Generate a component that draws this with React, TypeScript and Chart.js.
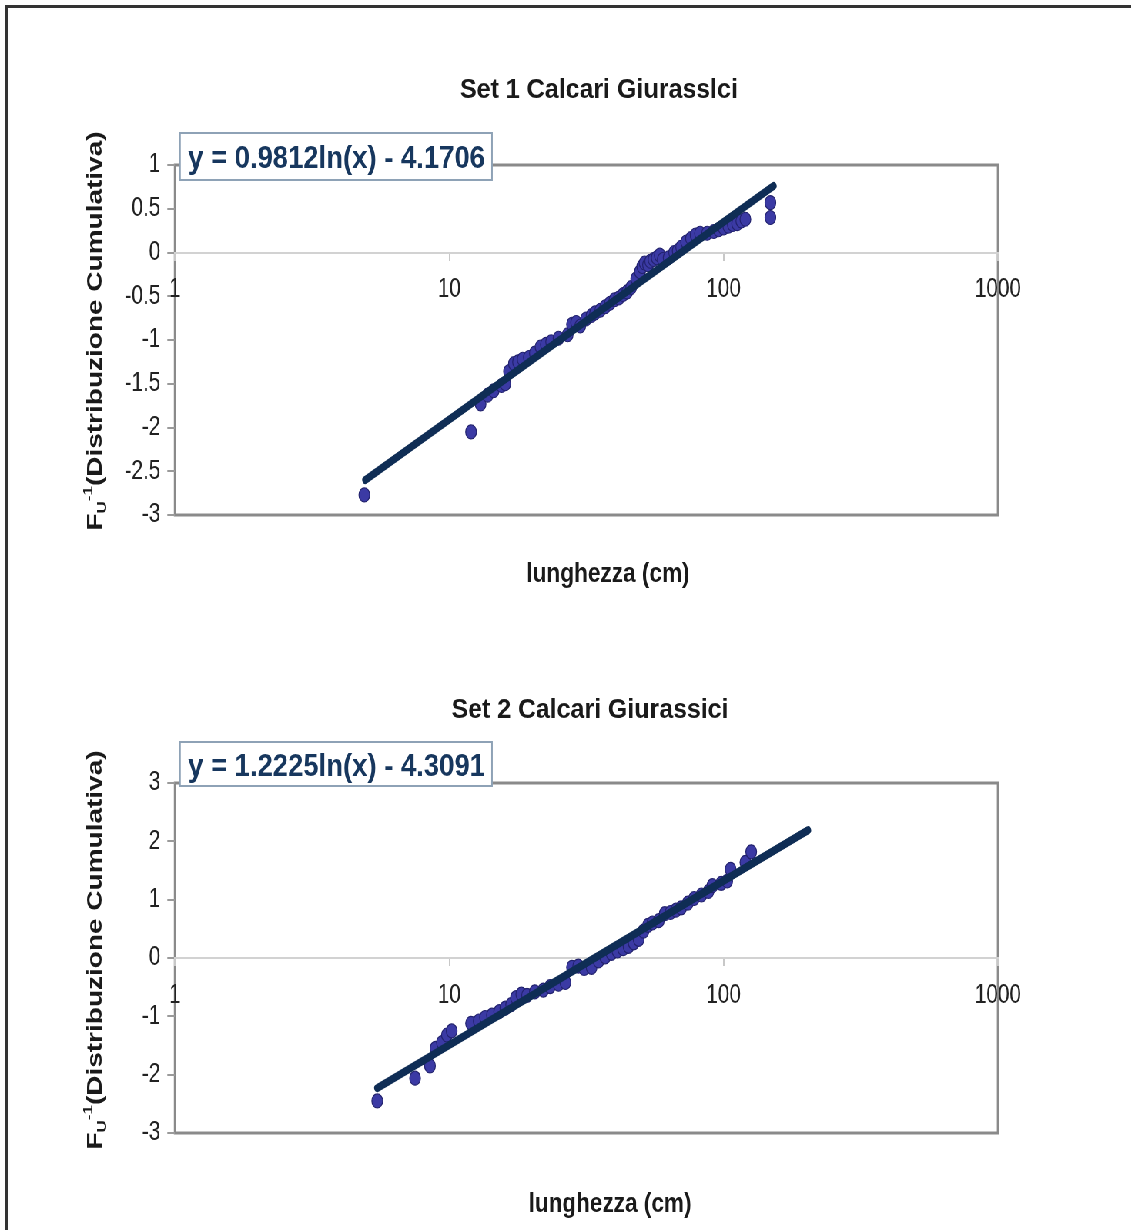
import React, { useEffect, useRef } from "react";
import { Chart, registerables } from "chart.js";

Chart.register(...registerables);

// ---------- data ----------
const xTicks = [1, 10, 100, 1000];
const yTicks1 = [1, 0.5, 0, -0.5, -1, -1.5, -2, -2.5, -3];
const yTicks2 = [3, 2, 1, 0, -1, -2, -3];

const title1 = "Set 1 Calcari Giurasslci";
const title2 = "Set 2 Calcari Giurassici";
const eq1 = "y = 0.9812ln(x) - 4.1706";
const eq2 = "y = 1.2225ln(x) - 4.3091";
const xTitle = "lunghezza (cm)";

const set1X = [4.9, 12.0, 13.0, 13.8, 14.5, 15.5, 16.0, 16.5, 17.2, 17.8, 18.5, 19.5, 20.5, 21.5, 22.5, 23.5, 25.0, 27.0, 28.0, 29.0, 30.0, 31.5, 33.0, 34.0, 35.5, 37.0, 38.5, 40.0, 41.5, 43.0, 44.5, 46.0, 48.0, 49.5, 50.5, 51.5, 53.0, 54.0, 55.5, 57.0, 58.5, 60.0, 63.0, 66.0, 68.0, 70.0, 73.0, 76.0, 79.0, 82.0, 87.0, 92.0, 96.0, 100.0, 104.0, 108.0, 112.0, 116.0, 120.0, 148.0, 148.0];
const set1Y = [-2.77, -2.05, -1.73, -1.63, -1.58, -1.52, -1.5, -1.36, -1.27, -1.25, -1.22, -1.2, -1.15, -1.08, -1.05, -1.02, -0.98, -0.94, -0.82, -0.8, -0.84, -0.76, -0.72, -0.69, -0.66, -0.62, -0.58, -0.54, -0.52, -0.48, -0.45, -0.4, -0.3, -0.22, -0.16, -0.12, -0.14, -0.1, -0.08, -0.06, -0.03, -0.08, -0.06, 0.0, 0.02, 0.06, 0.12, 0.16, 0.2, 0.22, 0.22, 0.24, 0.26, 0.28, 0.3, 0.32, 0.33, 0.36, 0.38, 0.4, 0.57];

const set2X = [5.46, 7.5, 8.5, 8.9, 9.4, 9.8, 10.2, 12.0, 12.8, 13.5, 14.3, 15.2, 16.0, 16.8, 17.5, 18.3, 19.2, 20.5, 22.0, 23.3, 25.0, 26.5, 28.0, 29.5, 31.0, 33.0, 35.0, 37.0, 39.0, 41.0, 43.0, 45.0, 47.0, 49.0, 51.0, 53.0, 55.0, 58.0, 61.0, 64.0, 67.0, 70.0, 74.0, 78.0, 83.0, 88.0, 91.0, 98.0, 103.0, 106.0, 120.0, 126.0];
const set2Y = [-2.45, -2.06, -1.85, -1.55, -1.45, -1.32, -1.25, -1.12, -1.08, -1.02, -0.98, -0.92, -0.86, -0.8, -0.68, -0.62, -0.64, -0.58, -0.55, -0.49, -0.45, -0.42, -0.16, -0.14, -0.18, -0.16, -0.05, 0.02, 0.08, 0.12, 0.16, 0.2, 0.26, 0.32, 0.46, 0.56, 0.6, 0.64, 0.76, 0.78, 0.82, 0.86, 0.94, 1.02, 1.08, 1.14, 1.24, 1.28, 1.32, 1.52, 1.64, 1.82];

const trend1X = [4.94, 152];
const trend1Y = [-2.6, 0.76];
const trend2X = [5.46, 203];
const trend2Y = [-2.23, 2.19];

// ---------- layout ----------
const S = 0.77; // horizontal squeeze of the original picture
const CW = Math.round(1131 / S);
const CH = 615;
const FONT = "'Liberation Sans', Arial, Helvetica, sans-serif";

function fitText(ctx, text, pageCx, baseline, font, pageW, color) {
  ctx.save();
  ctx.font = font;
  ctx.fillStyle = color;
  ctx.textAlign = "left";
  ctx.textBaseline = "alphabetic";
  const w = ctx.measureText(text).width;
  const sx = pageW / S / w;
  ctx.translate(pageCx / S, baseline);
  ctx.scale(sx, 1);
  ctx.fillText(text, -w / 2, 0);
  ctx.restore();
}

function drawYTitle(ctx, pageX, cy) {
  const parts = [
    { t: "F", size: 28, dy: 0 },
    { t: "U", size: 17, dy: 6 },
    { t: "-1", size: 17, dy: -12 },
    { t: "(Distribuzione Cumulativa)", size: 28, dy: 0 },
  ];
  ctx.save();
  ctx.translate(pageX / S, cy);
  ctx.rotate(-Math.PI / 2);
  ctx.fillStyle = "#1a1a1a";
  ctx.textBaseline = "alphabetic";
  ctx.textAlign = "left";
  let total = 0;
  const ws = parts.map((p) => {
    ctx.font = `bold ${p.size}px ${FONT}`;
    const w = ctx.measureText(p.t).width;
    total += w;
    return w;
  });
  let x = -total / 2;
  parts.forEach((p, i) => {
    ctx.font = `bold ${p.size}px ${FONT}`;
    ctx.fillText(p.t, x, p.dy);
    x += ws[i];
  });
  ctx.restore();
}

function buildConfig(p) {
  const decor = {
    id: "decor",
    beforeDraw(chart) {
      const { ctx, chartArea: a } = chart;
      ctx.save();
      ctx.strokeStyle = "#8a8a8a";
      ctx.lineWidth = 3;
      ctx.strokeRect(a.left, a.top, a.right - a.left, a.bottom - a.top);
      ctx.restore();
    },
    afterDraw(chart) {
      const ctx = chart.ctx;
      const oy = p.offsetY;
      fitText(ctx, p.title, p.titleCx, p.titleBase - oy, `bold 27px ${FONT}`, p.titleW, "#1a1a1a");
      // equation box
      const [bx, by, bw, bh] = p.box;
      ctx.save();
      ctx.fillStyle = "#ffffff";
      ctx.fillRect(bx / S, by - oy, bw / S, bh);
      ctx.strokeStyle = "#8ea2b6";
      ctx.lineWidth = 2;
      ctx.strokeRect(bx / S, by - oy, bw / S, bh);
      ctx.restore();
      fitText(ctx, p.eq, p.eqCx, p.eqBase - oy, `bold 31px ${FONT}`, p.eqW, "#17375e");
      fitText(ctx, xTitle, p.xTitleCx, p.xTitleBase - oy, `bold 27px ${FONT}`, 163, "#1a1a1a");
      drawYTitle(ctx, 102, p.yTitleCy - oy);
    },
  };

  const trendData = p.trendX.map((x, i) => ({ x, y: p.trendY[i] }));
  const ptsData = p.xs.map((x, i) => ({ x, y: p.ys[i] }));

  return {
    type: "scatter",
    data: {
      datasets: [
        {
          type: "line",
          data: trendData,
          borderColor: "#0f2d55",
          borderWidth: 8,
          pointRadius: 0,
          borderCapStyle: "round",
          fill: false,
          tension: 0,
          order: 0,
        },
        {
          data: ptsData,
          backgroundColor: "#3b3aa4",
          borderColor: "#22226e",
          borderWidth: 1.2,
          pointRadius: 7,
          order: 1,
        },
      ],
    },
    options: {
      responsive: false,
      animation: false,
      devicePixelRatio: 1,
      events: [],
      layout: { padding: { left: 0, right: CW - 998 / S, top: p.padTop, bottom: p.padBottom } },
      plugins: { legend: { display: false }, tooltip: { enabled: false }, title: { display: false } },
      scales: {
        x: {
          type: "logarithmic",
          min: 1,
          max: 1000,
          position: { y: 0 },
          afterBuildTicks: (s) => {
            s.ticks = xTicks.map((v) => ({ value: v }));
          },
          ticks: {
            callback: (v) => String(v),
            font: { family: FONT, size: 27 },
            color: "#222",
            padding: 14,
            maxRotation: 0,
            autoSkip: false,
          },
          grid: { drawOnChartArea: false, drawTicks: true, tickLength: 7, color: "#c8c8c8", lineWidth: 2 },
          border: { display: true, color: "#d2d2d2", width: 2 },
          afterFit: (s) => {
            s.paddingLeft = 0;
            s.paddingRight = 0;
            s.paddingTop = 0;
            s.paddingBottom = 0;
          },
        },
        y: {
          type: "linear",
          min: p.yMin,
          max: p.yMax,
          position: "left",
          afterBuildTicks: (s) => {
            s.ticks = p.yTicks.map((v) => ({ value: v }));
          },
          ticks: {
            callback: (v) => String(v),
            font: { family: FONT, size: 27 },
            color: "#222",
            padding: 9,
          },
          grid: { drawOnChartArea: false, drawTicks: true, tickLength: 10, color: "#9a9a9a", lineWidth: 2 },
          border: { display: false },
          afterFit: (s) => {
            s.width = 175 / S;
            s.paddingLeft = 0;
            s.paddingRight = 0;
            s.paddingTop = 0;
            s.paddingBottom = 0;
          },
        },
      },
    },
    plugins: [decor],
  };
}

const panel1 = {
  xs: set1X, ys: set1Y, trendX: trend1X, trendY: trend1Y,
  yMin: -3, yMax: 1, yTicks: yTicks1,
  padTop: 165, padBottom: CH - 515, offsetY: 0,
  title: title1, titleCx: 599, titleBase: 98, titleW: 278,
  eq: eq1, box: [180, 133, 312, 47], eqCx: 336.5, eqBase: 168, eqW: 297,
  xTitleCx: 608, xTitleBase: 582, yTitleCy: 331,
};

const panel2 = {
  xs: set2X, ys: set2Y, trendX: trend2X, trendY: trend2Y,
  yMin: -3, yMax: 3, yTicks: yTicks2,
  padTop: 783 - CH, padBottom: 2 * CH - 1133, offsetY: CH,
  title: title2, titleCx: 590, titleBase: 718, titleW: 277,
  eq: eq2, box: [180, 742, 312, 44], eqCx: 336.5, eqBase: 776, eqW: 297,
  xTitleCx: 610, xTitleBase: 1212, yTitleCy: 950,
};

export default function App() {
  const r1 = useRef<HTMLCanvasElement>(null);
  const r2 = useRef<HTMLCanvasElement>(null);
  useEffect(() => {
    const c1 = new Chart(r1.current as HTMLCanvasElement, buildConfig(panel1) as any);
    const c2 = new Chart(r2.current as HTMLCanvasElement, buildConfig(panel2) as any);
    return () => {
      c1.destroy();
      c2.destroy();
    };
  }, []);
  return (
    <div style={{ position: "absolute", left: 0, top: 0, width: 1131, height: 1230, overflow: "hidden", background: "#fff" }}>
      <div style={{ position: "absolute", left: 5, top: 5, width: 1200, height: 1300, borderLeft: "3px solid #333", borderTop: "3px solid #333" }} />
      <div style={{ position: "absolute", left: 0, top: 0, width: CW, height: 2 * CH, transform: `scaleX(${S})`, transformOrigin: "0 0" }}>
        <canvas ref={r1} width={CW} height={CH} style={{ position: "absolute", left: 0, top: 0 }} />
        <canvas ref={r2} width={CW} height={CH} style={{ position: "absolute", left: 0, top: CH }} />
      </div>
    </div>
  );
}
